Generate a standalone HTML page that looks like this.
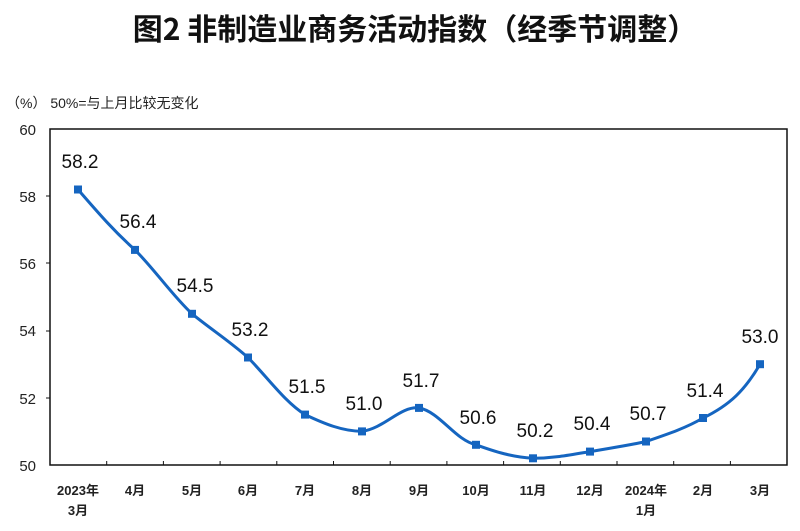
<!DOCTYPE html>
<html><head><meta charset="utf-8"><style>
body{margin:0;background:#fff;}
</style></head><body>
<svg width="800" height="526" xmlns="http://www.w3.org/2000/svg" font-family="'Liberation Sans','Noto Sans CJK SC',sans-serif">
<rect width="800" height="526" fill="#fff"/>
<text x="415" y="40" font-size="30" font-weight="bold" text-anchor="middle" fill="#111" font-family="'Noto Sans CJK SC',sans-serif">图2  非制造业商务活动指数（经季节调整）</text>
<text x="6" y="108" font-size="14" fill="#222">（%）  50%=与上月比较无变化</text>
<rect x="50" y="129" width="737" height="336" fill="none" stroke="#111" stroke-width="1.5"/>
<g font-size="15" fill="#222" text-anchor="end">
<text x="36" y="135">60</text><text x="36" y="202">58</text><text x="36" y="269">56</text><text x="36" y="336">54</text><text x="36" y="404">52</text><text x="36" y="471">50</text>
</g>
<g stroke="#111" stroke-width="1">
<line x1="46" y1="196" x2="50" y2="196"/><line x1="46" y1="263" x2="50" y2="263"/><line x1="46" y1="331" x2="50" y2="331"/><line x1="46" y1="398" x2="50" y2="398"/>
<line x1="106.7" y1="465" x2="106.7" y2="461"/><line x1="163.4" y1="465" x2="163.4" y2="461"/><line x1="220.1" y1="465" x2="220.1" y2="461"/><line x1="276.8" y1="465" x2="276.8" y2="461"/><line x1="333.5" y1="465" x2="333.5" y2="461"/><line x1="390.2" y1="465" x2="390.2" y2="461"/><line x1="446.9" y1="465" x2="446.9" y2="461"/><line x1="503.6" y1="465" x2="503.6" y2="461"/><line x1="560.3" y1="465" x2="560.3" y2="461"/><line x1="617" y1="465" x2="617" y2="461"/><line x1="673.7" y1="465" x2="673.7" y2="461"/><line x1="730.4" y1="465" x2="730.4" y2="461"/>
</g>
<g font-size="13" fill="#222" text-anchor="middle" font-weight="bold">
<text x="78" y="495">2023年</text><text x="78" y="515">3月</text>
<text x="135" y="495">4月</text><text x="192" y="495">5月</text><text x="248" y="495">6月</text><text x="305" y="495">7月</text><text x="362" y="495">8月</text><text x="419" y="495">9月</text><text x="476" y="495">10月</text><text x="533" y="495">11月</text><text x="590" y="495">12月</text>
<text x="646" y="495">2024年</text><text x="646" y="515">1月</text>
<text x="703" y="495">2月</text><text x="760" y="495">3月</text>
</g>
<path d="M78,189.5 C100,215 115,232 135,249.9 C155,270 172,295 192,313.8 C212,330 228,340 248,357.5 C268,378 285,402 305,414.6 C325,424 342,431 362,431.4 C385,428 400,406 419,407.9 C440,412 455,440 476,444.8 C496,452 512,457 533,458.3 C555,458 570,455 590,451.6 C610,448 626,446 646,441.5 C668,434 686,428 703,418 C730,405 745,390 760,364.2" fill="none" stroke="#1565c0" stroke-width="3"/>
<g fill="#1565c0">
<rect x="74" y="185.5" width="8" height="8"/><rect x="131" y="245.9" width="8" height="8"/><rect x="188" y="309.8" width="8" height="8"/><rect x="244" y="353.5" width="8" height="8"/><rect x="301" y="410.6" width="8" height="8"/><rect x="358" y="427.4" width="8" height="8"/><rect x="415" y="403.9" width="8" height="8"/><rect x="472" y="440.8" width="8" height="8"/><rect x="529" y="454.3" width="8" height="8"/><rect x="586" y="447.6" width="8" height="8"/><rect x="642" y="437.5" width="8" height="8"/><rect x="699" y="414" width="8" height="8"/><rect x="756" y="360.2" width="8" height="8"/>
</g>
<g font-size="19" fill="#111" text-anchor="middle">
<text x="80" y="168">58.2</text><text x="138" y="228">56.4</text><text x="195" y="292">54.5</text><text x="250" y="336">53.2</text><text x="307" y="393">51.5</text><text x="364" y="410">51.0</text><text x="421" y="387">51.7</text><text x="478" y="424">50.6</text><text x="535" y="437">50.2</text><text x="592" y="430">50.4</text><text x="648" y="420">50.7</text><text x="705" y="397">51.4</text><text x="760" y="343">53.0</text>
</g>
</svg>
</body></html>
